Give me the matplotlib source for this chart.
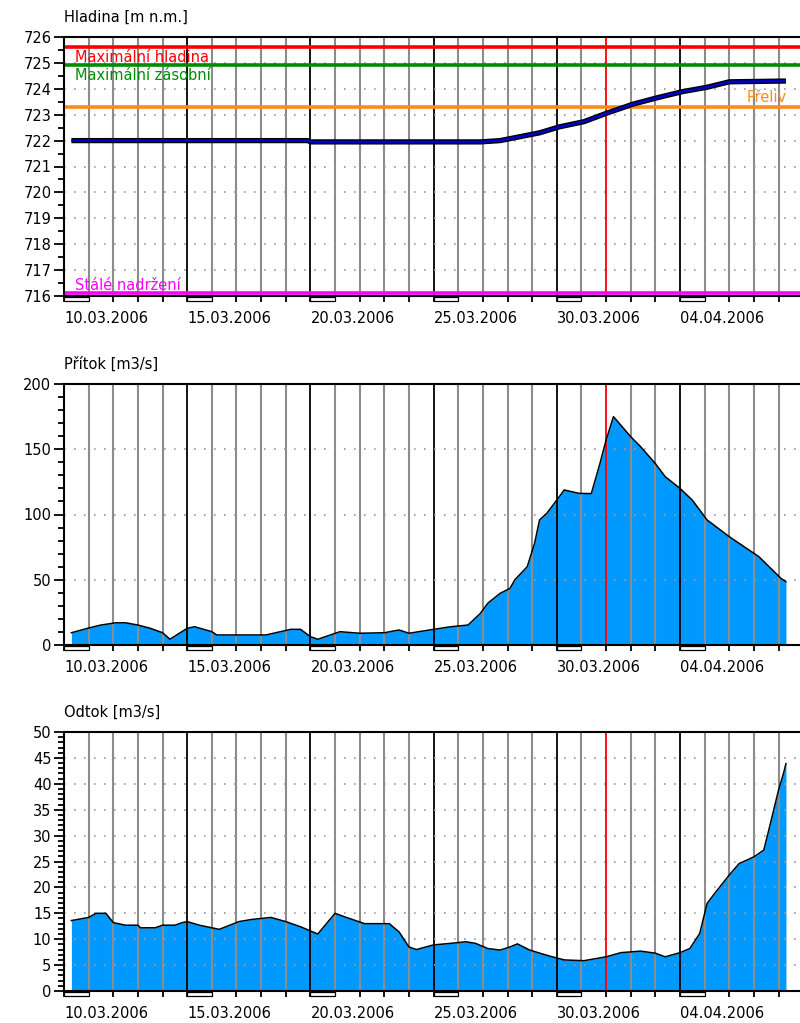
import matplotlib
matplotlib.use('Agg')
import matplotlib.pyplot as plt
from matplotlib.patches import Rectangle
import matplotlib.transforms as mtrans
import numpy as np

plt.rcParams['font.family'] = ['DejaVu Sans']

# ---------------- data (time in days since 10.03.2006 00:00) ----------------
date_labels = ['10.03.2006', '15.03.2006', '20.03.2006', '25.03.2006', '30.03.2006', '04.04.2006']
date_label_days = [0, 5, 10, 15, 20, 25]
current_day = 22  # 01.04.2006

level_days = [0.3, 9.9, 10.0, 16.9, 17.7, 18.5, 19.3, 20.1, 21.1, 22.0, 23.1, 24.1, 25.1, 26.1, 27.0, 29.3]
level_vals = [722.0, 722.0, 721.95, 721.95, 722.0, 722.15, 722.3, 722.53, 722.73, 723.05,
              723.41, 723.66, 723.89, 724.06, 724.27, 724.3]

ref_names = ['Maximální hladina', 'Maximální zásobní', 'Přeliv', 'Stálé nadržení']
ref_levels = [725.63, 724.92, 723.31, 716.1]
ref_colors = ['#ff0000', '#008c00', '#ff8c1a', '#ff00ff']

inflow_days = [0.3, 1.0, 1.5, 2.1, 2.5, 3.0, 3.5, 4.0, 4.3, 5.0, 5.3, 6.0, 6.2, 8.2, 9.2, 9.6,
               10.0, 10.3, 11.2, 12.0, 13.0, 13.6, 14.0, 15.0, 15.7, 16.4, 16.9, 17.2, 17.7,
               18.1, 18.3, 18.8, 19.1, 19.3, 19.6, 20.1, 20.3, 20.9, 21.4, 21.75, 22.0, 22.3,
               23.0, 23.4, 24.0, 24.4, 25.0, 25.5, 26.1, 27.0, 28.2, 29.1, 29.3]
inflow_vals = [9.4, 13, 15.3, 17, 17, 15.3, 12.8, 9.4, 4.4, 12.8, 14, 10.2, 7.7, 7.7, 12, 12,
               6.4, 4.4, 10.2, 9, 9.4, 11.5, 9, 12, 14, 15.3, 24.3, 32, 39.6,
               43.4, 50, 60, 78, 95.8, 101, 113.6, 118.8, 116.2, 116, 139, 157, 175,
               159.6, 152, 139, 129, 120, 111, 95.8, 83, 67.7, 51, 48.5]

outflow_days = [0.3, 1.0, 1.3, 1.7, 2.0, 2.5, 3.0, 3.1, 3.7, 4.0, 4.5, 4.8, 5.0, 5.5, 6.3, 7.1,
                7.6, 8.4, 9.0, 9.6, 10.0, 10.3, 11.0, 11.4, 12.2, 13.2, 13.6, 14.0, 14.3, 15.0,
                15.7, 16.3, 16.7, 17.2, 17.7, 18.1, 18.4, 18.9, 19.7, 20.3, 21.1, 22.0, 22.6,
                23.4, 24.0, 24.4, 25.0, 25.4, 25.8, 26.1, 26.4, 27.0, 27.4, 28.0, 28.4, 28.6,
                29.0, 29.2, 29.3]
outflow_vals = [13.6, 14.2, 15, 15, 13.2, 12.7, 12.7, 12.2, 12.2, 12.7, 12.7, 13.2, 13.4, 12.7,
                11.9, 13.4, 13.8, 14.2, 13.4, 12.4, 11.6, 11.0, 15, 14.3, 13, 13, 11.4, 8.5, 8.0,
                8.9, 9.2, 9.5, 9.2, 8.2, 7.9, 8.5, 9.1, 7.9, 6.75, 6.0, 5.85, 6.6, 7.4, 7.7, 7.3,
                6.6, 7.4, 8.2, 11.1, 16.9, 18.8, 22.4, 24.6, 25.9, 27.2, 31, 38.8, 42, 43.9]

titles = ['Hladina [m n.m.]', 'Přítok [m3/s]', 'Odtok [m3/s]']

# ---------------- layout ----------------
W, H = 800, 1023
fig = plt.figure(figsize=(W / 100, H / 100), dpi=100)
day_px = 24.64
x0 = 64
xmax = 30.6
FS = 10.5


def axpos(top, bottom):
    return [x0 / W, 1 - bottom / H, xmax * day_px / W, (bottom - top) / H]


panels = [(37, 296, 716, 726, 1, 0.5),
          (384, 645, 0, 200, 50, 10),
          (732, 991, 0, 50, 5, 1)]
axes = []
for (top, bottom, ymin, ymax, major, minor), title in zip(panels, titles):
    ax = fig.add_axes(axpos(top, bottom))
    axes.append(ax)
    ax.set_xlim(0, xmax)
    ax.set_ylim(ymin, ymax)
    ax.set_yticks(np.arange(ymin, ymax + 1e-6, major))
    ax.set_yticks(np.arange(ymin, ymax + 1e-6, minor), minor=True)
    ax.set_xticks(date_label_days)
    ax.set_xticklabels(date_labels, ha='left')
    ax.set_xticks(np.arange(0, 31), minor=True)
    ax.tick_params(axis='y', which='major', length=7, width=1.3, labelsize=FS, pad=2)
    ax.tick_params(axis='y', which='minor', length=4, width=1.3)
    ax.tick_params(axis='x', which='both', length=4.5, width=1.3, labelsize=FS, pad=6)
    for s in ax.spines.values():
        s.set_linewidth(1.5)
        s.set_zorder(5)
    for d in range(1, 31):
        if d == current_day:
            continue
        if d % 5 == 0:
            ax.axvline(d, color='black', lw=1.3, zorder=2)
        else:
            ax.axvline(d, color='#8c8c8c', lw=1.5, zorder=2)
    for y in np.arange(ymin + major, ymax - 1e-6, major):
        ax.axhline(y, color='#9a9a9a', lw=1.2, ls=(0, (1, 5)), zorder=2)
    ax.axvline(current_day, color='#ff0000', lw=1.3, zorder=2.5)
    trans = mtrans.blended_transform_factory(ax.transData, ax.transAxes)
    hpx = bottom - top
    for d in date_label_days:
        ax.add_patch(Rectangle((d, -5 / hpx), 1, 4 / hpx, transform=trans, clip_on=False,
                               fc='white', ec='black', lw=0.9, zorder=6))
    fig.text(x0 / W, 1 - (top - 20) / H, title, fontsize=FS, va='center', ha='left')

# ---------------- panel 1: water level ----------------
ax1 = axes[0]
for lvl, col in zip(ref_levels, ref_colors):
    ax1.axhline(lvl, color=col, lw=2.6, zorder=3)
lab_pos = [(75, 57, 'left'), (75, 76, 'left'), (747, 97, 'left'), (75, 285, 'left')]
for name, col, (px, py, ha) in zip(ref_names, ref_colors, lab_pos):
    fig.text(px / W, 1 - py / H, name, color=col, fontsize=FS, va='center', ha=ha, zorder=10)
ax1.plot(level_days, level_vals, color='black', lw=3.8, zorder=4, solid_capstyle='butt')
ax1.plot(level_days, level_vals, color='#0000cc', lw=1.8, zorder=4.5, solid_capstyle='butt')

# ---------------- panel 2: inflow ----------------
ax2 = axes[1]
ax2.fill_between(inflow_days, 0, inflow_vals, color='#0099ff', lw=0, zorder=1)
ax2.plot(inflow_days, inflow_vals, color='black', lw=1.1, zorder=3)

# ---------------- panel 3: outflow ----------------
ax3 = axes[2]
ax3.fill_between(outflow_days, 0, outflow_vals, color='#0099ff', lw=0, zorder=1)
ax3.plot(outflow_days, outflow_vals, color='black', lw=1.1, zorder=3)

fig.savefig('out.png', dpi=100)
